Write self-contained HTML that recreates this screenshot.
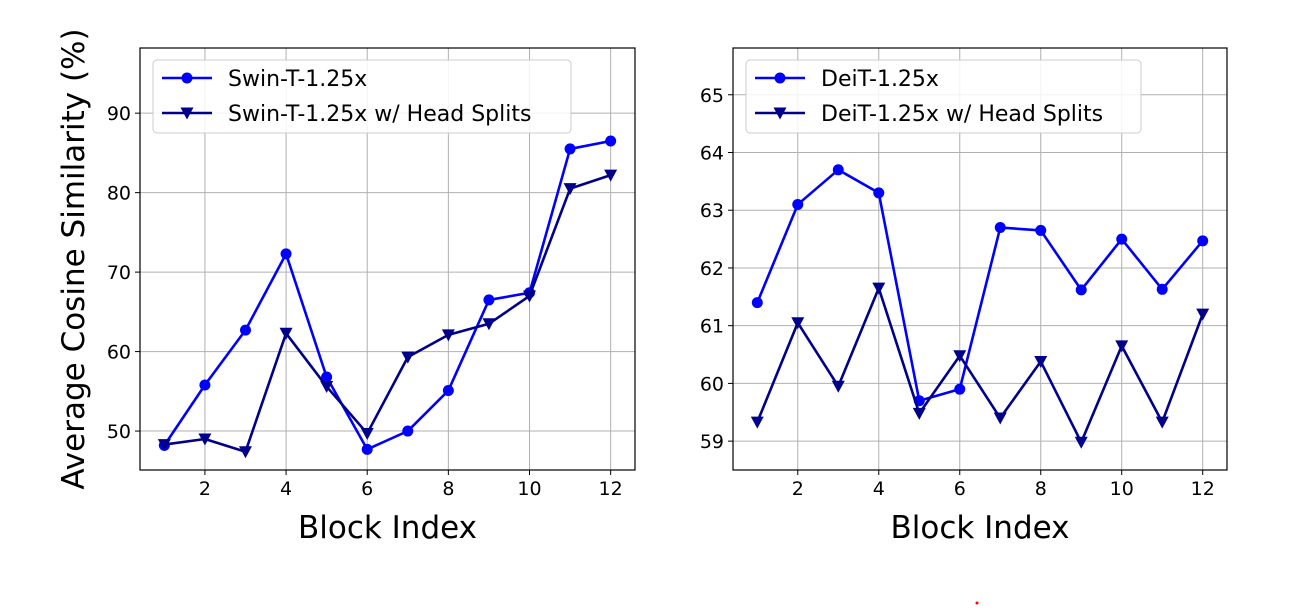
<!DOCTYPE html>
<html><head><meta charset="utf-8"><style>
body{margin:0;background:#fff;width:1295px;height:607px;overflow:hidden;font-family:"Liberation Sans","DejaVu Sans",sans-serif}
svg text{font-family:"DejaVu Sans","Liberation Sans",sans-serif}
</style></head><body>
<svg id="c" width="1295" height="607" xmlns="http://www.w3.org/2000/svg"></svg>
<script>
const blocks=[1,2,3,4,5,6,7,8,9,10,11,12];
const xTicks=[2,4,6,8,10,12];
const swinBase=[48.2,55.8,62.7,72.3,56.8,47.7,50.0,55.1,66.5,67.4,85.5,86.5];
const swinHead=[48.3,49.0,47.4,62.3,55.6,49.7,59.3,62.1,63.5,67.0,80.5,82.2];
const swinYTicks=[50,60,70,80,90];
const deitBase=[61.4,63.1,63.7,63.3,59.7,59.9,62.7,62.65,61.62,62.5,61.63,62.47];
const deitHead=[59.33,61.05,59.95,61.65,59.48,60.48,59.4,60.38,58.98,60.65,59.33,61.2];
const deitYTicks=[59,60,61,62,63,64,65];
const swinLabels=["Swin-T-1.25x","Swin-T-1.25x w/ Head Splits"];
const deitLabels=["DeiT-1.25x","DeiT-1.25x w/ Head Splits"];

const svg=document.getElementById('c');
const NS="http://www.w3.org/2000/svg";
function mk(tag,attrs,parent){const e=document.createElementNS(NS,tag);for(const k in attrs)e.setAttribute(k,attrs[k]);(parent||svg).appendChild(e);return e;}

function panel(name,L,R,T,B,xmin,xmax,ymin,ymax,yTicks,s1,s2,labels,legW){
  const g=mk('g',{});
  
  
  const X=v=>L+(v-xmin)/(xmax-xmin)*(R-L);
  const Y=v=>B-(v-ymin)/(ymax-ymin)*(B-T);
  xTicks.forEach(t=>{
    const l=mk('line',{x1:X(t),x2:X(t),y1:T,y2:B,stroke:'#b0b0b0','stroke-width':1},g);
    
    mk('line',{x1:X(t),x2:X(t),y1:B,y2:B+5,stroke:'#000','stroke-width':1},g);
    const tx=mk('text',{x:X(t),y:B+25,'font-size':19,'text-anchor':'middle'},g);tx.textContent=t;
    
  });
  yTicks.forEach(t=>{
    const l=mk('line',{x1:L,x2:R,y1:Y(t),y2:Y(t),stroke:'#b0b0b0','stroke-width':1},g);
    
    mk('line',{x1:L-5,x2:L,y1:Y(t),y2:Y(t),stroke:'#000','stroke-width':1},g);
    const tx=mk('text',{x:L-9,y:Y(t)+7,'font-size':19,'text-anchor':'end'},g);tx.textContent=t;
    
  });
  function series(vals,color,marker,sname){
    const sg=mk('g',{},g);
    
    mk('polyline',{points:vals.map((v,i)=>X(blocks[i])+','+Y(v)).join(' '),fill:'none',stroke:color,'stroke-width':2.6,'stroke-linejoin':'round'},sg);
    vals.forEach((v,i)=>{
      const x=X(blocks[i]),y=Y(v);
      let m;
      if(marker==='o')m=mk('circle',{cx:x,cy:y,r:5.5,fill:color},sg);
      else m=mk('polygon',{points:`${x-6.5},${y-5.5} ${x+6.5},${y-5.5} ${x},${y+6.5}`,fill:color},sg);
      
    });
  }
  series(s1,'#0000ff','o',name+'-base-series');
  series(s2,'#00008b','v',name+'-head-splits-series');
  const fr=mk('rect',{x:L,y:T,width:R-L,height:B-T,fill:'none',stroke:'#000','stroke-width':1.2},g);
  
  const xl=mk('text',{x:(L+R)/2,y:B+68,'font-size':31,'text-anchor':'middle'},g);xl.textContent='Block Index';
  
  const lg=mk('g',{},g);
  mk('rect',{x:L+13,y:T+12,width:legW,height:73,rx:4,fill:'#fff','fill-opacity':0.85,stroke:'#ccc'},lg);
  [['#0000ff','o'],['#00008b','v']].forEach((c,i)=>{
    const y=T+30+i*35,x0=L+22,x1=L+72,xm=(x0+x1)/2;
    const e=mk('g',{},lg);
    mk('line',{x1:x0,x2:x1,y1:y,y2:y,stroke:c[0],'stroke-width':2.6},e);
    if(c[1]==='o')mk('circle',{cx:xm,cy:y,r:5.5,fill:c[0]},e);
    else mk('polygon',{points:`${xm-6.5},${y-5.5} ${xm+6.5},${y-5.5} ${xm},${y+6.5}`,fill:c[0]},e);
    const t=mk('text',{x:L+88,y:y+8,'font-size':22},e);t.textContent=labels[i];
  });
}
panel('swin',140,635,48,470,0.4,12.6,45.1,98.2,swinYTicks,swinBase,swinHead,swinLabels,418);
panel('deit',733,1227,48,470,0.4,12.6,58.5,65.81,deitYTicks,deitBase,deitHead,deitLabels,395);
const yl=mk('text',{x:0,y:0,'font-size':31,'text-anchor':'middle',transform:'translate(84,259) rotate(-90)'});
yl.textContent='Average Cosine Similarity (%)';

const d=mk('circle',{cx:977,cy:603,r:1.5,fill:'#f00'});

</script>
</body></html>
